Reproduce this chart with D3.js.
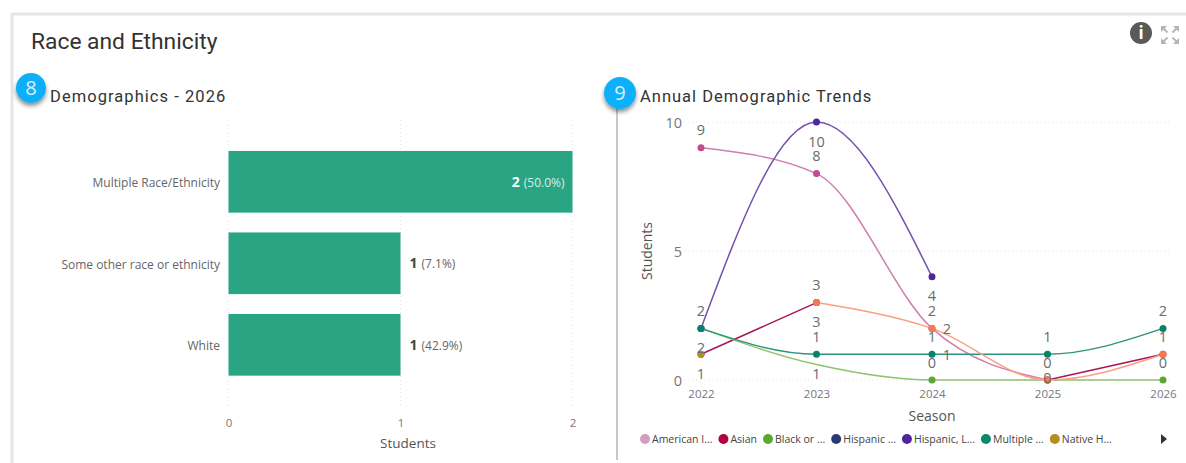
<!DOCTYPE html>
<html>
<head>
<meta charset="utf-8">
<script src="https://cdn.jsdelivr.net/npm/d3@7"></script>
<style>
body { margin: 0; background: #fff; }
text { font-family: "Open Sans", sans-serif; }
.head { font-family: Roboto, sans-serif; fill: #333; }
.axis .domain, .axis line { display: none; }
.axis text { fill: #777; font-family: "Open Sans", sans-serif; }
.grid { stroke: #e4e4e4; stroke-dasharray: 1 3; }
</style>
</head>
<body>
<svg id="chart" width="1186" height="463"></svg>
<script>
// bar chart
var categories = ["Multiple Race/Ethnicity", "Some other race or ethnicity", "White"];
var students = [2, 1, 1];
var percents = ["(50.0%)", "(7.1%)", "(42.9%)"];
var barTicks = [0, 1, 2];

// line chart
var seasons = [2022, 2023, 2024, 2025, 2026];
var americanIndian = [9, 8, 2, 0, null];
var asian = [1, 3, null, 0, 1];
var black = [2, 0.6, 0, 0, 0];
var hispanicLatino = [2, 10, 4, null, null];
var multiple = [2, 1, 1, 1, 2];
var nativeHawaiian = [1, null, null, null, null];
var someOther = [null, 3, 2, 0, 1];
var lineTicks = [0, 5, 10];
var legendNames = ["American I...", "Asian", "Black or ...", "Hispanic ...", "Hispanic, L...", "Multiple ...", "Native H..."];

// data labels on the line chart
var labelSeason = [2022,2022,2022,2022, 2023,2023,2023,2023,2023,2023, 2024,2024,2024,2024,2024,2024, 2025,2025,2025, 2026,2026,2026];
var labelValue  = [9,2,2,1, 10,8,3,3,1,1, 4,2,2,1,1,0, 1,0,0, 2,1,0];
var labelSide   = ["up","up","down","down", "down","up","up","down","up","down", "down","up","right","up","right","up", "up","up","on", "up","up","up"];

var legendColors = ["#d39cc0", "#b3003f", "#5aa832", "#2b3a75", "#51259a", "#0a8a6a", "#b38f1f"];
var lines = [
	{ values: americanIndian, line: "#cf7fae", dot: "#c44b8f" },
	{ values: asian, line: "#a8155a", dot: "#b3003f" },
	{ values: black, line: "#8cc46e", dot: "#5aa832" },
	{ values: hispanicLatino, line: "#7350ad", dot: "#51259a" },
	{ values: multiple, line: "#2a9578", dot: "#0a8068" },
	{ values: nativeHawaiian, line: "#b38f1f", dot: "#b38f1f" },
	{ values: someOther, line: "#f9a080", dot: "#f47b4f" }
];

var svg = d3.select("#chart");

// report frame
svg.append("path").attr("d", "M12 463V14H1186").attr("fill", "none").attr("stroke", "#e6e6e6").attr("stroke-width", 3);
svg.append("line").attr("x1", 617).attr("x2", 617).attr("y1", 105).attr("y2", 460).attr("stroke", "#c8c8c8").attr("stroke-width", 2);

svg.append("text").attr("class", "head").attr("x", 31).attr("y", 49).attr("font-size", 22.8).text("Race and Ethnicity");
svg.append("text").attr("class", "head").attr("x", 50).attr("y", 102).attr("font-size", 16.5).attr("letter-spacing", 1.05).text("Demographics - 2026");
svg.append("text").attr("class", "head").attr("x", 640).attr("y", 102).attr("font-size", 16.5).attr("letter-spacing", 1).text("Annual Demographic Trends");

// numbered badges
var defs = svg.append("defs");
defs.append("filter").attr("id", "shadow").attr("x", "-40%").attr("y", "-40%").attr("width", "180%").attr("height", "190%")
	.append("feDropShadow").attr("dx", 0).attr("dy", 3).attr("stdDeviation", 2).attr("flood-color", "#000").attr("flood-opacity", 0.45);
function badge(cx, cy, r, txt) {
	svg.append("circle").attr("cx", cx).attr("cy", cy).attr("r", r).attr("fill", "#0cb0f8").attr("filter", "url(#shadow)");
	svg.append("text").attr("x", cx).attr("y", cy + 7).attr("text-anchor", "middle").attr("font-size", 20).attr("fill", "#d8f2ff").text(txt);
}
badge(31, 88, 15, "8");
badge(620, 93, 16, "9");

// info and expand icons
svg.append("circle").attr("cx", 1141).attr("cy", 33).attr("r", 11).attr("fill", "#595959");
svg.append("text").attr("x", 1141).attr("y", 39).attr("text-anchor", "middle").attr("font-size", 17).attr("font-weight", 700).attr("fill", "#fff").text("i");
svg.append("path")
	.attr("d", "M1161 26h6l-6 6zM1179 26h-6l6 6zM1161 44h6l-6-6zM1179 44h-6l6-6z")
	.attr("fill", "#b5b5b5");
svg.append("path")
	.attr("d", "M1163 28l4.5 4.5M1177 28l-4.5 4.5M1163 42l4.5-4.5M1177 42l-4.5-4.5")
	.attr("stroke", "#b5b5b5").attr("stroke-width", 1.8);

// bars
var barX = d3.scaleLinear().domain([0, 2]).range([228.5, 572.5]);
var barY = d3.scaleBand().domain(categories).range([141, 385.6]).paddingInner(0.243).paddingOuter(0.122);

svg.append("g").selectAll("line").data(barTicks).enter().append("line")
	.attr("class", "grid")
	.attr("x1", function(d) { return barX(d); })
	.attr("x2", function(d) { return barX(d); })
	.attr("y1", 120).attr("y2", 405);

svg.append("g").selectAll("rect").data(categories).enter().append("rect")
	.attr("x", barX(0))
	.attr("y", function(d) { return barY(d); })
	.attr("width", function(d, i) { return barX(students[i]) - barX(0); })
	.attr("height", barY.bandwidth())
	.attr("fill", "#29a583");

svg.append("g").selectAll("text").data(categories).enter().append("text")
	.attr("x", 220)
	.attr("y", function(d) { return barY(d) + barY.bandwidth() / 2 + 5.5; })
	.attr("text-anchor", "end").attr("font-size", 12).attr("fill", "#666")
	.text(function(d) { return d; });

var barLabels = svg.append("g").selectAll("text").data(categories).enter().append("text")
	.attr("x", function(d, i) { return i == 0 ? barX(students[i]) - 8 : barX(students[i]) + 9; })
	.attr("y", function(d) { return barY(d) + barY.bandwidth() / 2 + 5; })
	.attr("text-anchor", function(d, i) { return i == 0 ? "end" : "start"; });
barLabels.append("tspan")
	.attr("font-size", 14).attr("font-weight", 700)
	.attr("fill", function(d, i) { return i == 0 ? "#fff" : "#444"; })
	.text(function(d, i) { return students[i]; });
barLabels.append("tspan")
	.attr("dx", 4).attr("font-size", 12)
	.attr("fill", function(d, i) { return i == 0 ? "#d5efe7" : "#666"; })
	.text(function(d, i) { return percents[i]; });

svg.append("g").attr("class", "axis")
	.attr("transform", "translate(0,414)")
	.call(d3.axisBottom(barX).tickValues(barTicks).tickFormat(d3.format("d")).tickSize(0).tickPadding(5))
	.selectAll("text").attr("font-size", 11.5);
svg.append("text").attr("x", 408).attr("y", 448).attr("text-anchor", "middle").attr("font-size", 13.5).attr("fill", "#555").text("Students");

// lines
var x = d3.scalePoint().domain(seasons).range([701, 1163]);
var y = d3.scaleLinear().domain([0, 10]).range([380, 122]);

svg.append("g").selectAll("line").data(lineTicks).enter().append("line")
	.attr("class", "grid")
	.attr("x1", 680).attr("x2", 1170)
	.attr("y1", function(d) { return y(d); })
	.attr("y2", function(d) { return y(d); });

svg.append("g").attr("class", "axis")
	.attr("transform", "translate(682,1)")
	.call(d3.axisLeft(y).tickValues(lineTicks).tickSize(0).tickPadding(0))
	.selectAll("text").attr("font-size", 14.5);
svg.append("g").attr("class", "axis")
	.attr("transform", "translate(0,387)")
	.call(d3.axisBottom(x).tickFormat(d3.format("d")).tickSize(0).tickPadding(3))
	.selectAll("text").attr("font-size", 11.5);

svg.append("text").attr("x", 932).attr("y", 421).attr("text-anchor", "middle").attr("font-size", 14).attr("fill", "#555").text("Season");
svg.append("text").attr("transform", "translate(652,251) rotate(-90)").attr("text-anchor", "middle").attr("font-size", 14).attr("fill", "#555").text("Students");

var lineGen = d3.line()
	.defined(function(d) { return d != null; })
	.x(function(d, i) { return x(seasons[i]); })
	.y(function(d) { return y(d); })
	.curve(d3.curveMonotoneX);

lines.forEach(function(s) {
	svg.append("path").attr("d", lineGen(s.values)).attr("fill", "none").attr("stroke", s.line).attr("stroke-width", 1.5);
});

lines.forEach(function(s) {
	var pts = s.values.map(function(v, i) { return { v: v, season: seasons[i] }; })
		.filter(function(p) { return p.v != null && Number.isInteger(p.v); });
	svg.append("g").selectAll("circle").data(pts).enter().append("circle")
		.attr("cx", function(p) { return x(p.season); })
		.attr("cy", function(p) { return y(p.v); })
		.attr("r", 3.5)
		.attr("fill", s.dot);
});

// data labels
var sideDy = { up: -18, down: 19, right: 0, on: -3 };
svg.append("g").selectAll("text").data(labelValue).enter().append("text")
	.attr("x", function(d, i) { return x(labelSeason[i]) + (labelSide[i] == "right" ? 15 : 0); })
	.attr("y", function(d, i) { return y(d) + sideDy[labelSide[i]] + 5.5; })
	.attr("text-anchor", "middle").attr("font-size", 14.5).attr("fill", "#6c6c6c")
	.text(function(d) { return d; });

// legend
var legendX = 645;
legendNames.forEach(function(name, i) {
	svg.append("circle").attr("cx", legendX).attr("cy", 439).attr("r", 5).attr("fill", legendColors[i]);
	var t = svg.append("text").attr("x", legendX + 7).attr("y", 443).attr("font-size", 10.5).attr("fill", "#444").text(name);
	legendX += 7 + t.node().getComputedTextLength() + 11;
});
svg.append("path").attr("d", "M1161 434l6 5-6 5z").attr("fill", "#333");
</script>
</body>
</html>
